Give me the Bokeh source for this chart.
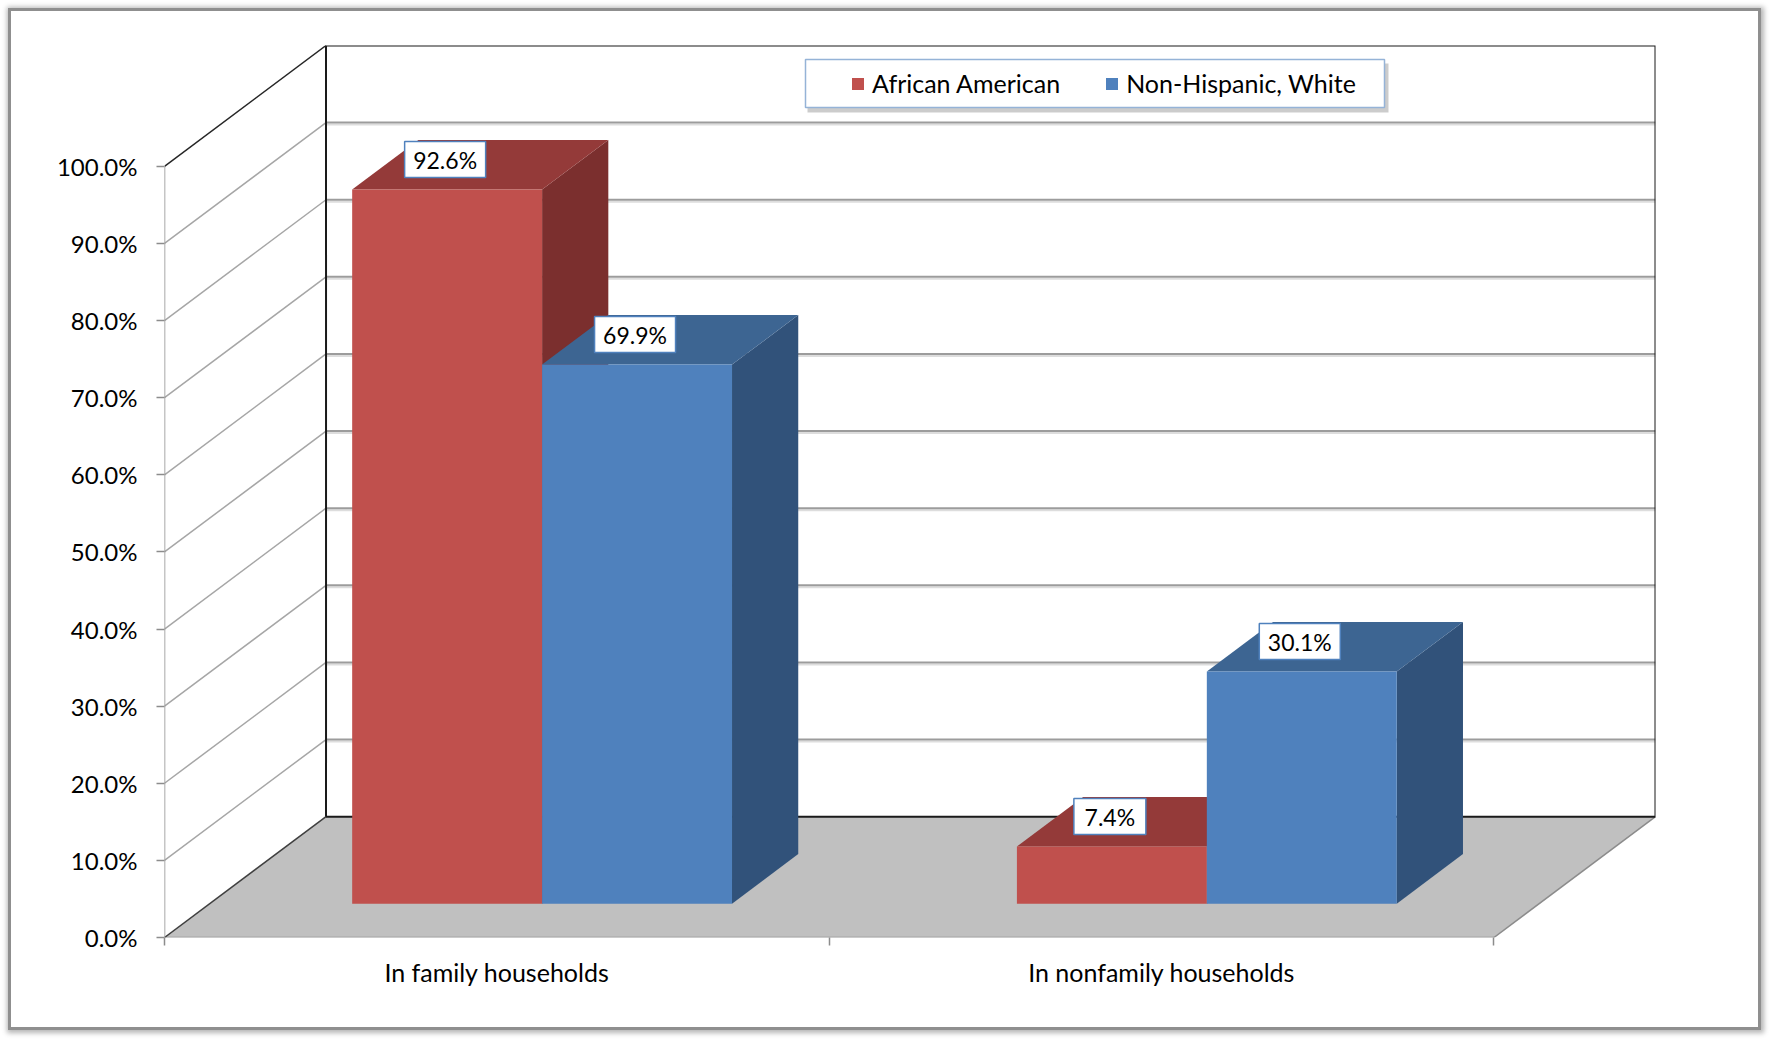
import numpy as np
from bokeh.plotting import figure
from bokeh.models import (Range1d, FixedTicker, PrintfTickFormatter, CustomJSTickFormatter,
                          Legend, LegendItem)
from bokeh.core.properties import value
from bokeh.embed import file_html
from bokeh.resources import INLINE

# ---------------- data ----------------
categories = ["In family households", "In nonfamily households"]
series_names = ["African American", "Non-Hispanic, White"]
african_american = [92.6, 7.4]
non_hispanic_white = [69.9, 30.1]
y_ticks = [0, 10, 20, 30, 40, 50, 60, 70, 80, 90, 100]

# ---------------- style / geometry ----------------
FONT = "Lato"
FS_WORDS = "25px"
FS_TICKS = "24px"
FS_VALUES = "23px"
DX = 0.243      # depth shift in category units
DY = 15.67      # depth shift in percent units
BAR_W = 1 / 3.5
D0, D1 = 0.28, 0.69
X1 = len(categories) + DX
Y1 = 100 + DY

OX, OY = 11, 11          # canvas origin on the page (margin + border)
W, H = 1753, 1022
ML, MR, MT, MB = 153, 109, 34, 96
PX_X = (W - ML - MR) / X1
PX_Y = (H - MT - MB) / Y1

front_cols = ["#C0504D", "#4F81BD"]
top_cols = ["#943A39", "#3D6592"]
side_cols = ["#7B2F2E", "#31527A"]

p = figure(width=W, height=H, output_backend="svg", toolbar_location=None,
           x_range=Range1d(0, X1), y_range=Range1d(0, Y1),
           min_border_left=ML, min_border_right=MR, min_border_top=MT, min_border_bottom=MB)
p.styles = {"margin": "8px", "border": "3px solid #8f8f8f",
            "box-shadow": "1px 1px 5px 2px #b5b5b5"}
p.outline_line_color = None
p.xgrid.visible = False
p.ygrid.visible = False
p.background_fill_color = "white"
p.border_fill_color = "white"


def proj(x, y, d):
    return np.asarray(x, float) + d * DX, np.asarray(y, float) + d * DY


ncat = len(categories)
# back wall and side wall gridlines
for v in y_ticks[1:-1]:
    xs, ys = proj([0, ncat], [v, v], 1.0)
    p.line(xs, ys - 2 / PX_Y, line_color="#DDDDDD", line_width=2)
    p.line(xs, ys, line_color="#9C9C9C", line_width=2)
    p.line([0, DX], [v, v + DY], line_color="#A6A6A6", line_width=1.5)

# floor
fx = [0, ncat, ncat + DX, DX]
fy = [0, 0, DY, DY]
p.patch(fx, fy, fill_color="#C0C0C0", line_color=None)
p.line([0, ncat], [0, 0], line_color="#A6A6A6", line_width=2)
p.line([0, DX], [0, DY], line_color="#404040", line_width=1.5)
p.line([ncat, ncat + DX], [0, DY], line_color="#8C8C8C", line_width=1.5)

# back wall border
p.line([DX, DX, ncat + DX, ncat + DX, DX], [DY, 100 + DY, 100 + DY, DY, DY],
       line_color="#1a1a1a", line_width=2)
p.line([0, DX], [100, 100 + DY], line_color="#262626", line_width=1.5)
p.line([0, 0], [0, 100], line_color="#8C8C8C", line_width=1.5)

# bars
centers = np.arange(ncat) + 0.5
legend_items = []
label_x, label_y, label_t = [], [], []
for i, vals in enumerate([african_american, non_hispanic_white]):
    vals = np.asarray(vals, float)
    x0 = centers - BAR_W + i * BAR_W
    x1 = x0 + BAR_W
    side_xs, side_ys, top_xs, top_ys, fr_xs, fr_ys = [], [], [], [], [], []
    for a, b, v in zip(x0, x1, vals):
        sx0, sy0 = proj([b, b], [0, v], D0)
        sx1, sy1 = proj([b, b], [v, 0], D1)
        side_xs.append(list(sx0) + list(sx1)); side_ys.append(list(sy0) + list(sy1))
        tx0, ty0 = proj([a, b], [v, v], D0)
        tx1, ty1 = proj([b, a], [v, v], D1)
        top_xs.append(list(tx0) + list(tx1)); top_ys.append(list(ty0) + list(ty1))
        qx0, qy0 = proj([a, b], [0, 0], D0)
        qx1, qy1 = proj([b, a], [v, v], D0)
        fr_xs.append(list(qx0) + list(qx1)); fr_ys.append(list(qy0) + list(qy1))
        lx, ly = proj([(a + b) / 2], [v], D0)
        label_x.append(lx[0] - 2 / PX_X)
        label_y.append(ly[0] + 30 / PX_Y)
        label_t.append(f"{v:.1f}%")
    p.patches(side_xs, side_ys, fill_color=side_cols[i], line_color=None)
    p.patches(top_xs, top_ys, fill_color=top_cols[i], line_color=None)
    r = p.patches(fr_xs, fr_ys, fill_color=front_cols[i], line_color=None)
    legend_items.append(LegendItem(label=series_names[i], renderers=[r]))

# data labels
widths = [36 + 9 * len(t) for t in label_t]
p.rect(label_x, label_y, width=widths, height=36, width_units="screen", height_units="screen",
       fill_color="white", line_color="#4F81BD", line_width=1.5)
p.text(label_x, label_y, text=label_t, text_align="center", text_baseline="middle",
       text_font=value(FONT), text_font_size=FS_VALUES, text_color="black")


# legend box (decor) with shadow
def px2x(px):
    return (px - OX - ML) / PX_X


def py2y(py):
    return (H - MB - (py - OY)) / PX_Y


p.quad(left=[px2x(807)], right=[px2x(1388)], top=[py2y(63)], bottom=[py2y(112)],
       fill_color="#BFBFBF", fill_alpha=0.8, line_color=None)
p.quad(left=[px2x(805)], right=[px2x(1384)], top=[py2y(59)], bottom=[py2y(107)],
       fill_color="white", line_color="#95B3D7", line_width=1.5)

legend = Legend(items=legend_items, orientation="horizontal",
                location=(int(850 - OX - ML), int(H - MB - (98 - OY))),
                padding=0, margin=0, spacing=44, glyph_width=15, glyph_height=15,
                label_standoff=7, border_line_color=None, background_fill_alpha=0,
                label_text_font=FONT, label_text_font_size=FS_WORDS, label_text_color="black")
p.add_layout(legend)

# axes
yax = p.yaxis[0]
yax.ticker = FixedTicker(ticks=y_ticks)
yax.formatter = PrintfTickFormatter(format="%.1f%%")
yax.axis_line_color = None
yax.major_tick_line_color = "#8C8C8C"
yax.major_tick_line_width = 1.5
yax.major_tick_out = 8
yax.major_tick_in = 0
yax.minor_tick_line_color = None
yax.major_label_standoff = 19
yax.major_label_text_font = FONT
yax.major_label_text_font_size = FS_TICKS
yax.major_label_text_color = "black"

xax = p.xaxis[0]
xax.ticker = FixedTicker(ticks=list(centers), minor_ticks=list(range(ncat + 1)))
xax.formatter = CustomJSTickFormatter(args=dict(labels=categories),
                                      code="return labels[Math.round(tick - 0.5)];")
xax.axis_line_color = None
xax.major_tick_line_color = None
xax.major_tick_out = 0
xax.major_tick_in = 0
xax.minor_tick_line_color = "#8C8C8C"
xax.minor_tick_line_width = 1.5
xax.minor_tick_out = 8
xax.minor_tick_in = 0
xax.major_label_standoff = 11
xax.major_label_text_font = FONT
xax.major_label_text_font_size = FS_WORDS
xax.major_label_text_color = "black"

open("out.html", "w").write(file_html(p, INLINE))
